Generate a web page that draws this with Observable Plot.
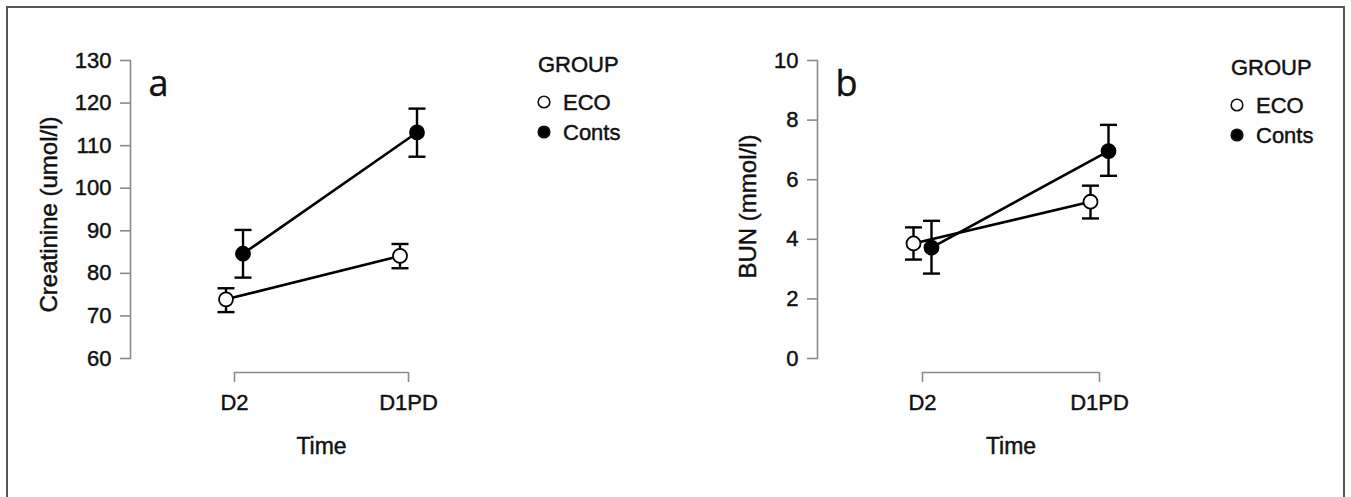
<!DOCTYPE html>
<html><head><meta charset="utf-8">
<script src="https://cdn.jsdelivr.net/npm/d3@7"></script>
<script src="https://cdn.jsdelivr.net/npm/@observablehq/plot@0.6"></script>
<style>
body{margin:0;background:#fff;width:1351px;height:497px;overflow:hidden;position:relative;font-family:"Liberation Sans",Arial,sans-serif;}
#border{position:absolute;left:6px;top:6px;width:1335px;height:600px;border:2px solid #555;}
.panel{position:absolute;top:0;width:675px;height:497px;}
.panel text, svg.legend text{stroke:#111;stroke-width:0.45px;}
</style></head><body>
<div id="border"></div>
<div id="pa" class="panel" style="left:0"></div>
<div id="pb" class="panel" style="left:675px"></div>
<script>
// ---- data ----
const times = ["D2", "D1PD"];
const groups = ["ECO", "Conts"];

const creatECO = [73.9, 84.1];
const creatECOLo = [70.9, 81.2];
const creatECOHi = [76.5, 86.9];
const creatConts = [84.6, 113.1];
const creatContsLo = [79.0, 107.4];
const creatContsHi = [90.2, 118.7];

const bunECO = [3.86, 5.26];
const bunECOLo = [3.32, 4.70];
const bunECOHi = [4.40, 5.80];
const bunConts = [3.72, 6.96];
const bunContsLo = [2.85, 6.13];
const bunContsHi = [4.62, 7.84];

const creatTicks = [60, 70, 80, 90, 100, 110, 120, 130];
const bunTicks = [0, 2, 4, 6, 8, 10];

function rows(group, mean, lo, hi) {
  return times.map((t, i) => ({time: t, group, mean: mean[i], lo: lo[i], hi: hi[i]}));
}

const GAP = 14;
const capSymbol = {
  draw(ctx, size) {
    const w = Math.sqrt(size / Math.PI);
    ctx.moveTo(-w, 0);
    ctx.lineTo(w, 0);
  }
};

function panel({letter, ytitle, ticks, data, marginLeft, marginRight, inset, dodge, titleDx, titleDy}) {
  const series = [];
  for (const g of groups) {
    const d = data.filter(r => r.group === g);
    const dx = g === "ECO" ? -dodge : dodge;
    series.push(
      Plot.line(d, {x: "time", y: "mean", dx, stroke: "black", strokeWidth: 2.6})
    );
  }
  for (const g of groups) {
    const d = data.filter(r => r.group === g);
    const dx = g === "ECO" ? -dodge : dodge;
    series.push(
      Plot.ruleX(d, {x: "time", y1: "lo", y2: "hi", dx, stroke: "black", strokeWidth: 2.4}),
      Plot.dot(d, {x: "time", y: "lo", dx, symbol: capSymbol, r: 8.5, stroke: "black", strokeWidth: 2.4, fill: "none"}),
      Plot.dot(d, {x: "time", y: "hi", dx, symbol: capSymbol, r: 8.5, stroke: "black", strokeWidth: 2.4, fill: "none"}),
      Plot.dot(d, {x: "time", y: "mean", dx, r: 7, fill: g === "ECO" ? "white" : "black", stroke: "black", strokeWidth: 1.8})
    );
  }
  return Plot.plot({
    width: 675, height: 497,
    marginTop: 60, marginBottom: 125, marginLeft, marginRight,
    x: {type: "point", domain: times, padding: 0, insetLeft: inset, insetRight: inset},
    y: {domain: [ticks[0], ticks[ticks.length - 1]], insetBottom: GAP},
    style: {fontFamily: "'Liberation Sans', Arial, sans-serif", fontSize: "22px", color: "#111", background: "transparent", overflow: "visible"},
    marks: [
      Plot.frame({anchor: "left", insetBottom: GAP, stroke: "#8a8a8a", strokeWidth: 1.6}),
      Plot.axisY(ticks, {tickSize: 10, tickPadding: 9, stroke: "#8a8a8a", strokeWidth: 1.6, fill: "#111", label: null, fontSize: 22}),
      Plot.ruleY([{a: times[0], b: times[times.length - 1], y: ticks[0]}], {x1: "a", x2: "b", y: "y", dy: GAP, stroke: "#8a8a8a", strokeWidth: 1.6}),
      Plot.axisX({tickSize: 10, tickPadding: 12, stroke: "#8a8a8a", strokeWidth: 1.6, fill: "#111", label: null, fontSize: 22}),
      Plot.text([ytitle], {text: d => d, frameAnchor: "left", textAnchor: "middle", lineAnchor: "middle", rotate: -90, dx: titleDx, dy: titleDy, fontSize: 24, fill: "#111"}),
      Plot.text(["Time"], {text: d => d, frameAnchor: "bottom", dy: 74, lineAnchor: "middle", fontSize: 23, fill: "#111"}),
      Plot.text([letter], {text: d => d, frameAnchor: "top-left", dx: 18, dy: 24, textAnchor: "start", lineAnchor: "middle", fontSize: 36, fontFamily: "'Open Sans', sans-serif", fill: "#111"}),
      ...series
    ]
  });
}

const dataA = [
  ...rows("ECO", creatECO, creatECOLo, creatECOHi),
  ...rows("Conts", creatConts, creatContsLo, creatContsHi)
];
const dataB = [
  ...rows("ECO", bunECO, bunECOLo, bunECOHi),
  ...rows("Conts", bunConts, bunContsLo, bunContsHi)
];

document.getElementById("pa").append(panel({
  letter: "a", ytitle: "Creatinine (umol/l)", ticks: creatTicks, data: dataA,
  marginLeft: 130, marginRight: 163, inset: 104, dodge: 8.5, titleDx: -81, titleDy: -2
}));
document.getElementById("pb").append(panel({
  letter: "b", ytitle: "BUN (mmol/l)", ticks: bunTicks, data: dataB,
  marginLeft: 142, marginRight: 146, inset: 105, dodge: 9, titleDx: -69, titleDy: -10
}));

// ---- legends ----
function legend(left, top) {
  const svg = d3.create("svg").attr("class", "legend").attr("width", 130).attr("height", 100)
    .style("position", "absolute").style("left", left + "px").style("top", top + "px")
    .style("overflow", "visible")
    .style("font-family", "'Liberation Sans', Arial, sans-serif").style("font-size", "22px");
  svg.append("text").attr("x", 0).attr("y", 0).attr("dy", "0.36em").attr("fill", "#111").text("GROUP");
  groups.forEach((g, i) => {
    const y = 38 + i * 30;
    svg.append("circle").attr("cx", 6).attr("cy", y).attr("r", 5.8)
      .attr("fill", g === "ECO" ? "white" : "black").attr("stroke", "#111").attr("stroke-width", 1.6);
    svg.append("text").attr("x", 25).attr("y", y).attr("dy", "0.36em").attr("fill", "#111").text(g);
  });
  document.body.append(svg.node());
}
legend(538, 64);
legend(1231, 67);
</script>
</body></html>
